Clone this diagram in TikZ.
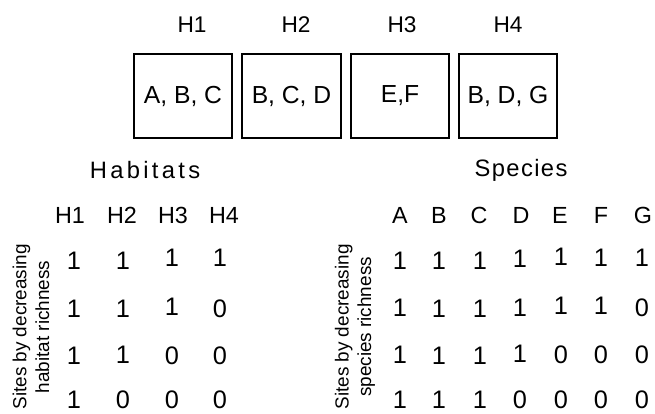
\documentclass[tikz,border=0pt]{standalone}
\usepackage{fontspec}
\setmainfont{Liberation Sans}

\tikzset{every picture/.style={line width=0.75pt}}
\tikzset{
  habbox/.style={line width=1.1pt},
  habtitle/.style={inner sep=0pt, font=\fontsize{17}{20}\selectfont},
  boxtext/.style={inner sep=0pt, font=\fontsize{18.5}{20}\selectfont},
  groupname/.style={inner sep=0pt, font=\fontsize{17.8}{20}\selectfont},
  colhead/.style={inner sep=0pt, font=\fontsize{17.5}{20}\selectfont},
  cellnum/.style={inner sep=0pt, font=\fontsize{19}{20}\selectfont},
  sidelabel/.style={inner sep=0pt, font=\fontsize{14.2}{17}\selectfont, rotate=90, align=center}
}

\begin{document}
\begin{tikzpicture}[x=0.75pt,y=0.75pt,yscale=-1,xscale=1]
\useasboundingbox (0,0) rectangle (655,413);

%Shape: Rectangle [H1]
\draw  [habbox] (134,54) -- (232,54) -- (232,138) -- (134,138) -- cycle ;
%Shape: Rectangle [H2]
\draw  [habbox] (242,54) -- (341,54) -- (341,138) -- (242,138) -- cycle ;
%Shape: Rectangle [H3]
\draw  [habbox] (351,54) -- (449,54) -- (449,138) -- (351,138) -- cycle ;
%Shape: Rectangle [H4]
\draw  [habbox] (459,54) -- (557,54) -- (557,138) -- (459,138) -- cycle ;

% Text Node
\draw (192,25) node [habtitle] (tH1) {H1};
% Text Node
\draw (296,25) node [habtitle] (tH2) {H2};
% Text Node
\draw (402,25) node [habtitle] (tH3) {H3};
% Text Node
\draw (508,25) node [habtitle] (tH4) {H4};

% Text Node
\draw (183,96) node [boxtext] (bH1) {A, B, C};
% Text Node
\draw (291.5,96) node [boxtext] (bH2) {B, C, D};
% Text Node
\draw (400,96) node [boxtext] (bH3) {E,F};
% Text Node
\draw (508,96) node [boxtext] (bH4) {B, D, G};

% Text Node
\draw (145,170) node [groupname] (habitats) {\addfontfeature{LetterSpace=14}Habitats};
% Text Node
\draw (521,170) node [groupname] (species) {\addfontfeature{LetterSpace=6}Species};

% Text Node
\draw (31,327) node [sidelabel] (sideH) {Sites by decreasing\\habitat richness};
% Text Node
\draw (355,327) node [sidelabel] (sideS) {Sites by decreasing\\species richness};

% Habitat matrix: column heads
\draw (70,215) node [colhead] (hH1) {H1};
\draw (122,215) node [colhead] (hH2) {H2};
\draw (173,215) node [colhead] (hH3) {H3};
\draw (224,215) node [colhead] (hH4) {H4};
% Habitat matrix: row 1
\draw (74,261) node [cellnum] (h11) {1};
\draw (123,261) node [cellnum] (h12) {1};
\draw (172,258) node [cellnum] (h13) {1};
\draw (220,258) node [cellnum] (h14) {1};
% Habitat matrix: row 2
\draw (74,309) node [cellnum] (h21) {1};
\draw (123,309) node [cellnum] (h22) {1};
\draw (172,307) node [cellnum] (h23) {1};
\draw (220,309) node [cellnum] (h24) {0};
% Habitat matrix: row 3
\draw (74,356) node [cellnum] (h31) {1};
\draw (123,355) node [cellnum] (h32) {1};
\draw (172,356) node [cellnum] (h33) {0};
\draw (220,356) node [cellnum] (h34) {0};
% Habitat matrix: row 4
\draw (74,400) node [cellnum] (h41) {1};
\draw (123,400) node [cellnum] (h42) {0};
\draw (172,400) node [cellnum] (h43) {0};
\draw (220,400) node [cellnum] (h44) {0};

% Species matrix: column heads
\draw (400,215) node [colhead] (sA) {A};
\draw (439,215) node [colhead] (sB) {B};
\draw (479,215) node [colhead] (sC) {C};
\draw (521,215) node [colhead] (sD) {D};
\draw (560,215) node [colhead] (sE) {E};
\draw (601,215) node [colhead] (sF) {F};
\draw (643,215) node [colhead] (sG) {G};
% Species matrix: row 1
\draw (400,261) node [cellnum] (s11) {1};
\draw (439,261) node [cellnum] (s12) {1};
\draw (480,261) node [cellnum] (s13) {1};
\draw (520,259) node [cellnum] (s14) {1};
\draw (561,257) node [cellnum] (s15) {1};
\draw (601,258) node [cellnum] (s16) {1};
\draw (642,258) node [cellnum] (s17) {1};
% Species matrix: row 2
\draw (400,308) node [cellnum] (s21) {1};
\draw (439,309) node [cellnum] (s22) {1};
\draw (480,309) node [cellnum] (s23) {1};
\draw (520,308) node [cellnum] (s24) {1};
\draw (561,306) node [cellnum] (s25) {1};
\draw (601,306) node [cellnum] (s26) {1};
\draw (642,308) node [cellnum] (s27) {0};
% Species matrix: row 3
\draw (400,355) node [cellnum] (s31) {1};
\draw (439,356) node [cellnum] (s32) {1};
\draw (480,356) node [cellnum] (s33) {1};
\draw (520,354) node [cellnum] (s34) {1};
\draw (561,355) node [cellnum] (s35) {0};
\draw (601,355) node [cellnum] (s36) {0};
\draw (642,355) node [cellnum] (s37) {0};
% Species matrix: row 4
\draw (400,400) node [cellnum] (s41) {1};
\draw (439,400) node [cellnum] (s42) {1};
\draw (480,400) node [cellnum] (s43) {1};
\draw (520,400) node [cellnum] (s44) {0};
\draw (561,400) node [cellnum] (s45) {0};
\draw (601,400) node [cellnum] (s46) {0};
\draw (642,400) node [cellnum] (s47) {0};

\end{tikzpicture}
\end{document}
